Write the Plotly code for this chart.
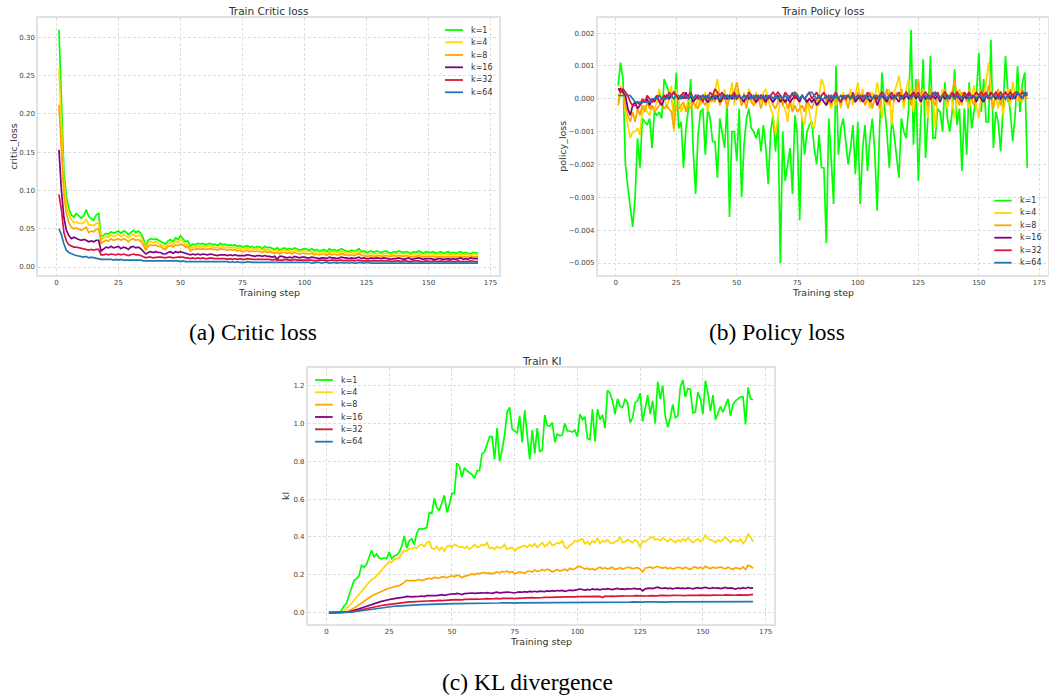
import plotly.graph_objects as go

W, H = 1049, 696

steps = list(range(1, 171))
series_names = ["k=1", "k=4", "k=8", "k=16", "k=32", "k=64"]
series_colors = ["#00ff00", "#ffd700", "#ffa500", "#800080", "#dc143c", "#1f77b4"]

# ---------------- Critic loss (values in units of 1e-3) ----------------
CRITIC_UNIT = 1e-3
critic_k1 = [
    310, 205, 125, 92, 76, 68, 65, 70, 67, 64,
    67, 75, 66, 63, 61, 68, 70, 39, 42, 44,
    43, 46, 44, 45, 47, 44, 47, 46, 42, 45,
    48, 45, 47, 44, 38, 26, 35, 37, 36, 37,
    35, 34, 31, 30, 34, 36, 33, 38, 36, 41,
    37, 33, 34, 27, 30, 29, 31, 30, 31, 29,
    30, 31, 29, 30, 28, 31, 29, 30, 28, 29,
    28, 29, 27, 28, 26, 27, 28, 26, 27, 25,
    27, 26, 24, 27, 25, 26, 24, 23, 25, 22,
    24, 25, 23, 24, 23, 25, 24, 22, 23, 24,
    23, 22, 24, 22, 23, 21, 22, 23, 20, 24,
    22, 23, 21, 22, 24, 22, 21, 20, 22, 21,
    22, 24, 20, 21, 19, 20, 21, 19, 21, 20,
    19, 20, 21, 19, 18, 20, 19, 21, 20, 19,
    20, 19, 18, 20, 19, 21, 19, 18, 20, 19,
    19, 20, 18, 19, 20, 18, 19, 20, 18, 19,
    18, 19, 20, 18, 19, 18, 17, 19, 18, 18,
]
critic_k4 = [
    260, 180, 110, 82, 68, 62, 58, 59, 57, 57,
    58, 62, 55, 55, 54, 57, 58, 36, 38, 40,
    39, 42, 40, 41, 43, 40, 42, 41, 38, 41,
    43, 40, 42, 39, 33, 24, 31, 33, 32, 33,
    31, 30, 27, 26, 30, 32, 29, 34, 32, 36,
    33, 29, 30, 24, 26, 26, 27, 26, 27, 26,
    27, 27, 26, 26, 25, 27, 26, 26, 25, 26,
    25, 26, 24, 25, 23, 24, 25, 23, 24, 23,
    24, 23, 22, 24, 22, 23, 22, 21, 22, 20,
    22, 22, 21, 22, 20, 22, 21, 20, 21, 21,
    20, 20, 21, 19, 20, 19, 20, 20, 18, 21,
    19, 20, 19, 19, 21, 19, 19, 18, 19, 18,
    19, 21, 18, 18, 17, 18, 18, 17, 18, 18,
    17, 18, 18, 17, 16, 18, 17, 18, 17, 17,
    18, 17, 16, 17, 17, 18, 17, 16, 17, 17,
    17, 17, 16, 17, 17, 16, 17, 17, 16, 17,
    16, 17, 17, 16, 17, 16, 15, 17, 16, 16,
]
critic_k8 = [
    212, 150, 95, 70, 58, 52, 50, 51, 49, 48,
    50, 52, 45, 47, 46, 49, 50, 31, 33, 35,
    34, 37, 35, 36, 37, 35, 37, 36, 33, 36,
    37, 35, 36, 34, 29, 22, 27, 29, 28, 29,
    27, 27, 24, 23, 27, 28, 26, 29, 28, 30,
    29, 26, 27, 21, 23, 23, 24, 23, 24, 23,
    24, 24, 23, 23, 22, 24, 23, 23, 22, 23,
    22, 23, 21, 22, 20, 21, 22, 20, 21, 20,
    21, 20, 19, 21, 19, 20, 19, 18, 19, 17,
    19, 19, 18, 19, 17, 19, 18, 17, 18, 18,
    17, 17, 18, 16, 17, 16, 17, 17, 15, 18,
    16, 17, 16, 16, 18, 16, 16, 15, 16, 15,
    16, 18, 15, 15, 14, 15, 15, 14, 15, 15,
    14, 15, 15, 14, 14, 15, 14, 15, 14, 14,
    15, 14, 13, 14, 14, 15, 14, 13, 14, 14,
    14, 14, 13, 14, 14, 13, 14, 14, 13, 14,
    13, 14, 14, 13, 14, 13, 13, 14, 13, 14,
]
critic_k16 = [
    153, 100, 65, 48, 41, 37, 39, 37, 36, 35,
    36, 35, 33, 34, 33, 35, 35, 21, 24, 26,
    25, 27, 25, 26, 27, 24, 26, 25, 23, 26,
    27, 25, 26, 24, 21, 17, 19, 20, 19, 20,
    19, 19, 17, 17, 19, 20, 18, 20, 19, 20,
    19, 18, 18, 16, 17, 16, 17, 16, 17, 16,
    16, 17, 16, 16, 15, 16, 16, 16, 15, 16,
    15, 16, 15, 15, 15, 15, 16, 15, 15, 14,
    15, 15, 14, 15, 14, 14, 13, 14, 10, 14,
    14, 13, 12, 13, 12, 14, 13, 12, 13, 13,
    12, 12, 13, 12, 12, 11, 12, 12, 11, 13,
    12, 12, 11, 12, 13, 12, 12, 11, 12, 11,
    12, 13, 11, 12, 11, 11, 12, 11, 12, 11,
    11, 12, 11, 11, 10, 11, 11, 12, 11, 10,
    11, 12, 10, 11, 11, 12, 11, 10, 11, 11,
    11, 10, 10, 11, 11, 10, 11, 11, 10, 11,
    10, 11, 12, 10, 11, 10, 12, 11, 11, 11,
]
critic_k32 = [
    95, 75, 45, 34, 29, 27, 26, 26, 25, 25,
    23, 23, 22, 23, 22, 23, 23, 16, 16, 17,
    16, 17, 16, 16, 17, 16, 17, 16, 15, 16,
    17, 16, 16, 15, 14, 12, 13, 13, 12, 13,
    13, 13, 12, 12, 13, 13, 12, 13, 13, 13,
    13, 12, 12, 11, 12, 11, 12, 11, 12, 11,
    11, 12, 11, 11, 11, 11, 11, 11, 10, 11,
    10, 11, 10, 11, 10, 10, 11, 10, 10, 10,
    10, 10, 10, 10, 10, 10, 9, 10, 9, 9,
    9, 10, 9, 9, 9, 10, 9, 9, 9, 9,
    9, 9, 9, 8, 9, 9, 9, 9, 8, 9,
    9, 9, 8, 9, 9, 8, 9, 8, 9, 8,
    9, 9, 8, 8, 8, 8, 8, 8, 8, 8,
    8, 8, 8, 8, 7, 8, 8, 8, 7, 8,
    8, 7, 7, 8, 8, 8, 7, 7, 8, 7,
    7, 8, 7, 7, 8, 7, 7, 8, 7, 7,
    7, 8, 7, 7, 7, 7, 8, 7, 7, 7,
]
critic_k64 = [
    50, 42, 30, 22, 19, 17, 16, 15, 14, 14,
    13, 14, 12, 13, 12, 12, 11, 10, 10, 10,
    10, 10, 9, 10, 9, 10, 9, 9, 9, 9,
    9, 9, 9, 9, 8, 8, 8, 8, 8, 8,
    8, 8, 8, 8, 8, 8, 8, 8, 8, 7,
    8, 7, 7, 7, 7, 7, 7, 7, 7, 7,
    7, 7, 7, 7, 7, 7, 7, 7, 7, 6,
    7, 6, 7, 6, 6, 6, 7, 6, 6, 6,
    6, 6, 6, 6, 6, 6, 6, 6, 6, 6,
    6, 6, 6, 6, 6, 6, 6, 6, 6, 6,
    6, 6, 5, 6, 6, 6, 5, 6, 6, 5,
    6, 6, 5, 6, 6, 5, 6, 5, 6, 5,
    5, 6, 5, 5, 6, 5, 5, 5, 5, 5,
    5, 5, 5, 5, 5, 5, 5, 5, 5, 5,
    5, 5, 5, 5, 5, 5, 5, 5, 5, 5,
    5, 5, 5, 5, 5, 5, 5, 5, 5, 5,
    5, 5, 5, 5, 5, 5, 5, 5, 5, 5,
]

# ---------------- Policy loss (values in units of 1e-5) ----------------
POLICY_UNIT = 1e-5
policy_k1 = [
    40, 110, 60, -200, -270, -340, -390, -300, -120, -210,
    -60, -70, -80, -60, -150, -40, -50, -40, -60, 60,
    40, 20, 10, -50, 80, -90, -70, -210, -90, -30,
    60, -160, -290, -110, -40, -30, -170, -30, -60, -130,
    -130, -240, -60, -110, -150, -10, -360, -100, -100, -190,
    -30, -300, -140, -60, -30, -90, -100, -120, -90, -160,
    -80, -150, -260, -100, -50, -160, -60, -500, -100, -250,
    -200, -150, -290, -50, -110, -370, -60, -170, -100, -80,
    -70, -150, -200, -110, -210, -210, -440, -60, -180, -320,
    100, -170, -90, -60, -130, -200, -150, -80, -230, -70,
    -320, -150, -80, -220, -120, -60, -160, -340, -90, 80,
    -20, -100, -210, -60, -110, -170, -240, -60, -100, -120,
    -30, 210, -140, 60, -250, -60, 120, -180, -50, 130,
    -120, -120, -30, -40, -100, 50, -60, -100, -40, 90,
    -80, -30, -220, -30, -170, 50, -90, -40, 10, 140,
    -40, 60, -70, -70, 180, -150, -40, -70, -160, -30,
    130, 20, -40, -130, -50, 100, -40, 50, 80, -210,
]
policy_k4 = [
    -10, 40, 30, -40, -80, -120, -100, -100, -90, -110,
    -30, -20, -40, -50, -20, -30, -10, 30, -10, 10,
    -30, 0, 40, -100, 30, -10, -40, -20, -30, 0,
    -20, -10, -30, 10, -20, 0, 20, -40, 10, -10,
    20, 60, 10, -10, 30, -20, 0, 50, -20, 30,
    0, -20, 20, -10, 30, 10, -20, 20, 0, -10,
    20, 30, 0, -30, -50, -110, -60, 10, -20, -30,
    -70, 0, -30, 10, 20, -20, -60, -80, -10, -40,
    -80, -90, -30, 10, 60, 40, -20, -10, -30, 0,
    -20, 10, -30, 20, -10, 0, 30, -20, 10, 50,
    0, 30, -20, 10, -30, 20, 0, 50, 10, -60,
    10, -20, 30, -80, 20, 40, 70, 20, -30, 30,
    60, 10, -40, 20, 50, -20, 30, 0, -60, 20,
    10, -90, 20, -10, 30, 0, -30, 20, -10, -60,
    10, 30, -20, 20, 0, -30, 10, 40, -20, -60,
    20, 0, 50, 110, 30, -20, 10, -30, 20, -50,
    0, 30, -20, 50, 10, -10, 30, -10, 20, 0,
]
policy_k8 = [
    -20, 20, 30, -20, -50, -70, -40, -70, -30, -50,
    -20, -40, -10, -30, -20, -40, -30, -20, -10, -30,
    -20, -30, -40, -90, -20, -30, -20, -10, -40, -20,
    -30, -10, -20, -30, 0, -10, -20, 10, -10, 0,
    -10, 20, -20, 0, 10, -30, 10, 0, 20, 50,
    10, -20, 0, -30, 10, -10, -20, -10, 0, -30,
    0, -20, 10, 0, -20, -30, -10, 10, -20, 0,
    -30, -10, -40, -20, -40, -30, -20, -40, 0, -20,
    -30, -10, 0, -20, 10, 20, -10, 0, -20, 10,
    -10, 0, -20, 10, 0, -30, 10, 0, -10, 20,
    -10, 10, -20, 0, 20, -30, 0, 10, -30, 10,
    0, 30, -20, 10, -10, 20, 0, 30, -10, 20,
    10, -20, 30, 0, 60, -10, 20, 0, -20, 30,
    0, -20, 20, -10, 10, 30, -10, 0, 20, 60,
    0, -20, 20, 10, -10, 30, 0, -20, 20, 10,
    30, -10, 10, 40, 0, -30, 10, 30, -20, 10,
    20, -10, 30, 0, 10, 20, -10, 30, 10, 0,
]
policy_k16 = [
    30, 30, 20, 10, -30, -50, -20, -10, -30, -20,
    -10, -10, 0, -20, 0, -10, 10, -10, -20, 0,
    10, 0, 10, 20, 10, 0, 10, 0, 20, 0,
    10, -10, 0, 10, 0, 10, 0, -10, 0, 10,
    0, 10, -10, 0, 10, 0, 10, 0, 10, 0,
    10, 0, -10, 10, 0, 10, 0, -10, 0, 10,
    0, -10, 10, 0, -10, 0, 10, -10, 0, -10,
    0, -10, 0, 10, 0, -10, 10, 0, -10, 0,
    -10, 0, -20, -10, 0, -10, -20, 0, -10, 0,
    10, 0, -10, 10, 0, 10, 0, 10, -10, 0,
    10, -10, 0, 10, -10, 0, 10, -20, 0, 10,
    0, -10, 10, 0, 10, 0, -10, 10, 0, 10,
    0, 10, 20, 0, 10, -10, 10, 0, 10, 0,
    10, 0, 10, -10, 10, 0, 10, 0, 20, 0,
    10, 0, -10, 10, 0, 20, 0, 10, -10, 10,
    0, -10, 10, 0, 20, 10, 0, 10, 0, 10,
    0, 10, 0, 10, 0, 20, 10, 0, 20, 10,
]
policy_k32 = [
    30, 20, 30, 20, 10, -10, -20, -20, -10, -20,
    0, -10, 10, 0, -10, 0, 10, -10, 0, 10,
    0, 20, 10, 20, 10, 0, 10, 20, 0, 10,
    20, 0, 10, 0, 10, -10, 10, 0, 20, 10,
    30, 20, 10, 20, 0, 10, 0, 10, 20, 0,
    10, 0, 10, 0, 20, 10, 0, 10, 0, 10,
    0, 10, 0, 10, 20, 10, 20, 10, 0, 20,
    10, 0, 20, 0, 10, 0, 10, 0, 10, 20,
    0, 10, 20, 0, 10, 20, 0, 10, 0, 10,
    20, 0, -10, 10, 0, 10, 0, 20, 0, 10,
    0, 10, 0, 20, 10, 0, 10, 0, 10, 20,
    10, 0, 10, 20, 0, 10, 20, 0, 10, 20,
    10, 0, 20, 10, 20, 0, 10, 20, 10, 0,
    20, 10, 20, 0, 10, 20, 10, 0, 20, 10,
    20, 10, 0, 20, 10, 20, 0, 10, 20, 10,
    20, 10, 20, 0, 20, 10, 20, 10, 20, 10,
    20, 10, 20, 10, 20, 20, 10, 20, 10, 20,
]
policy_k64 = [
    10, 10, 10, 10, 10, 10, 0, -10, -10, -10,
    -10, -10, -10, -10, 0, 0, 0, 10, 0, 0,
    0, 10, 10, 0, 10, 10, 0, 10, 10, 0,
    10, 0, 10, 10, 0, 10, 0, 10, 0, 0,
    10, 0, 0, 10, 0, 10, 0, 10, 0, 10,
    10, 0, 10, 0, 10, 0, 10, 0, 10, 0,
    10, 0, 10, 10, 0, 10, 0, 10, 0, 10,
    0, 10, 10, 20, 10, 0, 10, 0, 10, 20,
    20, 10, 0, 10, 0, 0, 10, 0, 10, 0,
    10, 0, 10, 0, 10, 10, 0, 10, 0, 10,
    10, 0, 10, 0, 10, 0, 10, 10, 0, 10,
    10, 0, 10, 10, 0, 10, 10, 0, 10, 10,
    10, 0, 10, 10, 10, 0, 10, 10, 0, 10,
    10, 20, 10, 0, 10, 10, 0, 10, 10, 0,
    10, 10, 0, 10, 10, 0, 10, 10, 0, 10,
    10, 0, 10, 10, 0, 10, 10, 0, 10, 10,
    0, 10, 10, 0, 10, 20, 10, 0, 20, 10,
]

# ---------------- KL (values in units of 1e-3) ----------------
KL_UNIT = 1e-3
kl_k1 = [
    0, 0, 0, 0, 0, 10, 35, 50, 90, 120,
    170, 180, 195, 250, 240, 255, 290, 330, 295, 310,
    290, 285, 290, 285, 320, 285, 300, 305, 320, 350,
    405, 340, 380, 390, 360, 420, 445, 440, 445, 450,
    530, 525, 605, 555, 540, 575, 620, 530, 570, 630,
    630, 790, 775, 715, 765, 750, 740, 730, 710, 750,
    750, 840, 850, 890, 930, 930, 810, 975, 800, 860,
    940, 1060, 1085, 970, 960, 950, 1040, 900, 1070, 930,
    810, 965, 840, 975, 850, 860, 1045, 990, 985, 1005,
    900, 945, 935, 940, 1000, 960, 960, 955, 965, 930,
    1050, 1020, 1035, 920, 915, 1075, 905, 1075, 1020, 1045,
    975, 1175, 1160, 1120, 1050, 1130, 1090, 1085, 1130, 1110,
    1005, 1030, 1110, 1120, 1160, 1010, 1080, 1150, 1050, 1120,
    1000, 1220, 1130, 1200, 1040, 980, 1030, 1100, 1030, 1040,
    1190, 1230, 1140, 1185, 1180, 1055, 1060, 1165, 1130, 1050,
    1225, 1160, 1065, 1150, 1020, 1060, 1090, 1060, 1100, 1130,
    1040, 1100, 1120, 1130, 1140, 1140, 995, 1190, 1130, 1125,
]
kl_k4 = [
    0, 0, 0, 0, 0, 2, 8, 20, 35, 50,
    65, 80, 100, 115, 130, 140, 160, 175, 180, 195,
    210, 225, 240, 260, 270, 265, 280, 285, 290, 310,
    330, 325, 340, 335, 345, 340, 355, 360, 350, 370,
    375, 340, 335, 350, 330, 345, 325, 350, 355, 345,
    360, 355, 345, 350, 340, 350, 335, 345, 360, 345,
    350, 360, 355, 370, 340, 345, 335, 350, 340, 345,
    360, 335, 340, 345, 325, 340, 345, 350, 355, 345,
    360, 350, 365, 345, 355, 370, 350, 360, 375, 355,
    360, 370, 365, 380, 345, 340, 355, 365, 380, 375,
    385, 390, 365, 375, 360, 380, 370, 395, 365, 380,
    375, 385, 370, 365, 375, 380, 400, 370, 375, 385,
    380, 370, 385, 375, 345, 380, 375, 385, 395, 400,
    385, 390, 380, 395, 385, 375, 390, 380, 370, 385,
    375, 390, 380, 395, 385, 370, 380, 390, 375, 385,
    410, 390, 385, 380, 370, 385, 375, 390, 400, 385,
    370, 385, 380, 375, 390, 365, 380, 415, 400, 375,
]
kl_k8 = [
    0, 0, 0, 0, 0, 0, 2, 5, 10, 18,
    25, 32, 40, 50, 60, 70, 78, 88, 95, 100,
    105, 110, 118, 125, 130, 132, 137, 140, 143, 150,
    160, 172, 168, 170, 168, 172, 175, 170, 175, 180,
    182, 178, 186, 184, 182, 190, 188, 185, 190, 195,
    190, 198, 195, 185, 192, 198, 200, 205, 200, 208,
    205, 210, 212, 208, 210, 205, 212, 215, 210, 218,
    215, 220, 212, 218, 205, 210, 215, 212, 208, 218,
    220, 215, 225, 218, 220, 228, 222, 230, 225, 215,
    222, 228, 220, 225, 230, 222, 235, 228, 232, 242,
    245, 238, 230, 235, 228, 232, 225, 235, 240, 232,
    238, 230, 235, 240, 228, 235, 238, 230, 235, 240,
    238, 232, 236, 238, 230, 215, 235, 238, 242, 235,
    240, 245, 238, 235, 240, 232, 238, 230, 235, 240,
    238, 232, 240, 235, 228, 238, 242, 235, 240, 232,
    245, 238, 232, 240, 235, 238, 242, 236, 232, 240,
    235, 228, 238, 235, 230, 242, 228, 250, 245, 235,
]
kl_k16 = [
    0, 0, 0, 0, 0, 0, 1, 3, 5, 8,
    12, 16, 20, 25, 30, 34, 38, 44, 48, 52,
    56, 60, 64, 68, 72, 72, 74, 75, 76, 78,
    82, 86, 84, 83, 85, 84, 86, 88, 85, 90,
    90, 88, 92, 90, 93, 95, 92, 96, 98, 100,
    98, 102, 100, 96, 101, 103, 101, 104, 102, 104,
    103, 105, 104, 106, 104, 102, 106, 108, 105, 107,
    106, 109, 108, 107, 104, 108, 110, 108, 111, 109,
    112, 110, 113, 110, 114, 112, 111, 115, 113, 116,
    114, 117, 115, 118, 113, 116, 119, 117, 118, 122,
    125, 122, 119, 123, 120, 125, 122, 124, 121, 125,
    123, 127, 124, 122, 126, 128, 124, 126, 123, 127,
    125, 126, 128, 124, 127, 115, 126, 128, 130, 127,
    132, 135, 130, 128, 131, 127, 130, 126, 129, 131,
    128, 130, 127, 131, 129, 126, 130, 132, 128, 131,
    134, 130, 128, 132, 129, 131, 127, 130, 133, 129,
    131, 128, 124, 130, 127, 132, 128, 134, 130, 131,
]
kl_k32 = [
    0, 0, 0, 0, 0, 0, 1, 2, 3, 5,
    8, 10, 13, 16, 19, 22, 25, 28, 31, 34,
    36, 38, 40, 42, 44, 45, 47, 48, 50, 52,
    54, 56, 57, 57, 58, 59, 60, 59, 61, 62,
    62, 63, 62, 64, 65, 64, 66, 67, 66, 68,
    69, 68, 70, 68, 70, 71, 70, 72, 71, 72,
    71, 73, 72, 74, 73, 72, 74, 75, 73, 75,
    74, 76, 75, 76, 74, 76, 77, 76, 78, 77,
    78, 79, 78, 80, 79, 80, 81, 80, 82, 81,
    82, 81, 83, 82, 84, 83, 82, 84, 83, 85,
    85, 84, 86, 85, 84, 86, 87, 85, 86, 80,
    87, 86, 88, 87, 86, 88, 87, 89, 88, 87,
    89, 88, 90, 89, 88, 90, 89, 88, 90, 89,
    90, 89, 91, 90, 89, 91, 90, 92, 91, 90,
    92, 91, 90, 92, 91, 93, 92, 91, 93, 92,
    93, 92, 91, 93, 92, 94, 93, 92, 94, 93,
    94, 93, 92, 94, 93, 95, 94, 93, 95, 95,
]
kl_k64 = [
    0, 0, 0, 0, 0, 0, 0, 1, 2, 3,
    5, 7, 9, 11, 13, 15, 17, 19, 21, 23,
    25, 27, 28, 30, 31, 32, 34, 35, 36, 38,
    39, 40, 40, 41, 41, 42, 42, 43, 43, 44,
    44, 44, 45, 45, 45, 46, 46, 47, 47, 47,
    48, 48, 48, 48, 49, 49, 49, 49, 50, 50,
    50, 50, 50, 51, 50, 51, 51, 51, 51, 52,
    51, 52, 52, 52, 50, 52, 52, 53, 52, 53,
    53, 52, 53, 53, 53, 54, 53, 54, 53, 54,
    54, 54, 53, 54, 54, 55, 54, 54, 55, 54,
    55, 55, 54, 55, 55, 55, 56, 55, 55, 56,
    55, 56, 56, 55, 56, 56, 56, 55, 56, 56,
    56, 57, 56, 56, 57, 56, 57, 56, 57, 57,
    57, 56, 57, 57, 56, 57, 57, 58, 57, 57,
    58, 57, 57, 58, 57, 58, 57, 58, 58, 57,
    58, 58, 57, 58, 58, 57, 58, 58, 58, 57,
    58, 58, 58, 57, 58, 58, 59, 58, 58, 58,
]

# ---------------- tick labels ----------------
x_tickvals = [0, 25, 50, 75, 100, 125, 150, 175]
x_ticktext = ["0", "25", "50", "75", "100", "125", "150", "175"]
critic_tickvals = [0.00, 0.05, 0.10, 0.15, 0.20, 0.25, 0.30]
critic_ticktext = ["0.00", "0.05", "0.10", "0.15", "0.20", "0.25", "0.30"]
policy_tickvals = [-0.005, -0.004, -0.003, -0.002, -0.001, 0.0, 0.001, 0.002]
policy_ticktext = ["\u22120.005", "\u22120.004", "\u22120.003", "\u22120.002",
                   "\u22120.001", "0.000", "0.001", "0.002"]
kl_tickvals = [0.0, 0.2, 0.4, 0.6, 0.8, 1.0, 1.2]
kl_ticktext = ["0.0", "0.2", "0.4", "0.6", "0.8", "1.0", "1.2"]

all_series = {
    "critic": [critic_k1, critic_k4, critic_k8, critic_k16, critic_k32, critic_k64],
    "policy": [policy_k1, policy_k4, policy_k8, policy_k16, policy_k32, policy_k64],
    "kl": [kl_k1, kl_k4, kl_k8, kl_k16, kl_k32, kl_k64],
}
for key, lst in all_series.items():
    for nm, s in zip(series_names, lst):
        if len(s) != len(steps):
            raise ValueError(f"{key} {nm} has {len(s)} values")

FONT = "DejaVu Sans"
SERIF = "Liberation Serif"
TXT = "#333333"


def px_x(p):
    return p / W


def px_y(p):
    return 1 - p / H


panels = [
    dict(key="critic", unit=CRITIC_UNIT, ax="", box=(38, 499, 18, 275),
         yrange=[-0.0104, 0.3253], ytv=critic_tickvals, ytt=critic_ticktext,
         title="Train Critic loss", ytitle="critic_loss", ytitle_x=13.3, xtitle_y=292,
         leg_x=(445, 463, 469), leg_y=[30, 42.3, 55, 67.3, 80, 92.3],
         caption="(a) Critic loss", cap=(253, 332)),
    dict(key="policy", unit=POLICY_UNIT, ax="2", box=(597.7, 1047.7, 18, 275),
         yrange=[-0.005365, 0.00246], ytv=policy_tickvals, ytt=policy_ticktext,
         title="Train Policy loss", ytitle="policy_loss", ytitle_x=562.3, xtitle_y=292,
         leg_x=(994.3, 1011.7, 1018.3), leg_y=[200.7, 213, 225.3, 237.7, 250.3, 262.7],
         caption="(b) Policy loss", cap=(777, 332)),
    dict(key="kl", unit=KL_UNIT, ax="3", box=(307.7, 774.3, 368.3, 624.3),
         yrange=[-0.0615, 1.2915], ytv=kl_tickvals, ytt=kl_ticktext,
         title="Train Kl", ytitle="kl", ytitle_x=285.7, xtitle_y=641,
         leg_x=(315, 332.7, 339.3), leg_y=[380, 392.3, 404.7, 417, 429.3, 441.7],
         caption="(c) KL divergence", cap=(527.5, 681.7)),
]

fig = go.Figure()
shapes = []
annotations = []
layout_axes = {}

axis_common = dict(
    showgrid=True, gridcolor="#dedede", griddash="3px,2px", gridwidth=0.8,
    zeroline=False, showline=True, mirror=True, linecolor="#e2e2e2", linewidth=1.5,
    ticks="", tickfont=dict(family=FONT, size=7, color="#444444"),
)

for p in panels:
    xa, ya = "x" + p["ax"], "y" + p["ax"]
    x0, x1, y0, y1 = p["box"]
    for nm, col, vals in zip(series_names, series_colors, all_series[p["key"]]):
        fig.add_trace(go.Scatter(
            x=steps, y=[v * p["unit"] for v in vals], mode="lines", name=nm,
            line=dict(color=col, width=1.7), xaxis=xa, yaxis=ya, showlegend=False,
        ))
    layout_axes["xaxis" + p["ax"]] = dict(
        axis_common, domain=[px_x(x0), px_x(x1)], range=[-7.45, 178.45],
        tickvals=x_tickvals, ticktext=x_ticktext, anchor=ya,
    )
    layout_axes["yaxis" + p["ax"]] = dict(
        axis_common, domain=[px_y(y1), px_y(y0)], range=p["yrange"],
        tickvals=p["ytv"], ticktext=p["ytt"], anchor=xa,
    )
    # title
    annotations.append(dict(
        text=p["title"], xref="paper", yref="paper", x=px_x((x0 + x1) / 2), y=px_y(y0 - 7.3),
        xanchor="center", yanchor="middle", showarrow=False,
        font=dict(family=FONT, size=10.5, color=TXT),
    ))
    # axis titles
    annotations.append(dict(
        text="Training step", xref="paper", yref="paper", x=px_x((x0 + x1) / 2),
        y=px_y(p["xtitle_y"]), xanchor="center", yanchor="middle", showarrow=False,
        font=dict(family=FONT, size=9.5, color=TXT),
    ))
    annotations.append(dict(
        text=p["ytitle"], xref="paper", yref="paper", x=px_x(p["ytitle_x"]),
        y=px_y((y0 + y1) / 2), xanchor="center", yanchor="middle", showarrow=False,
        textangle=-90, font=dict(family=FONT, size=9.5, color=TXT),
    ))
    # legend (drawn manually for matplotlib-like compact spacing)
    lx0, lx1, tx = p["leg_x"]
    for nm, col, ly in zip(series_names, series_colors, p["leg_y"]):
        shapes.append(dict(type="line", xref="paper", yref="paper",
                           x0=px_x(lx0), x1=px_x(lx1), y0=px_y(ly), y1=px_y(ly),
                           line=dict(color=col, width=1.8)))
        annotations.append(dict(
            text=nm, xref="paper", yref="paper", x=px_x(tx), y=px_y(ly),
            xanchor="left", yanchor="middle", showarrow=False,
            font=dict(family=FONT, size=8, color=TXT),
        ))
    # caption
    annotations.append(dict(
        text=p["caption"], xref="paper", yref="paper", x=px_x(p["cap"][0]),
        y=px_y(p["cap"][1]), xanchor="center", yanchor="middle", showarrow=False,
        font=dict(family=SERIF, size=23.5, color="#000000"),
    ))

fig.update_layout(
    width=W, height=H, margin=dict(l=0, r=0, t=0, b=0),
    paper_bgcolor="white", plot_bgcolor="white",
    font=dict(family=FONT, color=TXT),
    showlegend=False, shapes=shapes, annotations=annotations,
    **layout_axes,
)

fig.write_html("out.html", include_plotlyjs=True, full_html=True,
               config={"displayModeBar": False})
